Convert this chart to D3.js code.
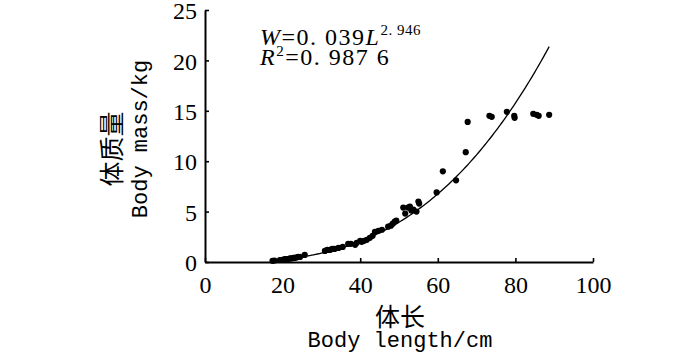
<!DOCTYPE html>
<html>
<head>
<meta charset="utf-8">
<script src="https://cdn.jsdelivr.net/npm/d3@7"></script>
<style>
  body { margin: 0; background: #fff; }
  .tick text { font-family: "Liberation Serif", serif; font-size: 24px; fill: #000; }
  .axis path, .axis line { stroke: #000; }
</style>
</head>
<body>
<script>
    // data (length cm, mass kg)
    var lengths = [17.4, 17.9, 19.3, 20.2, 20.6, 21.0, 21.4, 21.9, 22.3, 22.8, 23.1, 23.6, 24.0, 24.5, 25.7,
      30.9, 31.5, 32.2, 32.8, 33.4, 34.4, 35.5, 36.9, 37.6, 38.7, 39.1, 40.0, 40.4, 41.0, 41.7,
      42.5, 43.2, 43.8, 44.7, 45.6, 47.2, 47.9, 48.4, 48.9, 49.3, 51.1, 51.6, 52.3, 52.8, 53.2,
      53.7, 54.5, 55.0, 55.2, 59.7, 61.3, 64.7, 67.2, 67.7, 73.3, 73.9, 77.8, 79.7, 79.8,
      84.6, 85.5, 86.0, 88.7];
    var masses = [0.12, 0.15, 0.2, 0.25, 0.3, 0.28, 0.3, 0.35, 0.35, 0.4, 0.4, 0.45, 0.5, 0.5, 0.7,
      1.1, 1.2, 1.2, 1.3, 1.3, 1.4, 1.5, 1.8, 1.8, 1.7, 1.9, 2.1, 2.0, 2.1, 2.2,
      2.4, 2.6, 3.0, 3.1, 3.2, 3.5, 3.6, 3.8, 4.0, 4.1, 5.4, 4.8, 5.4, 5.5, 5.1,
      5.2, 5.0, 6.0, 5.8, 6.9, 9.0, 8.1, 10.9, 13.9, 14.5, 14.4, 14.9, 14.5, 14.3,
      14.7, 14.6, 14.5, 14.6];
    var xTicks = [0, 20, 40, 60, 80, 100];
    var yTicks = [0, 5, 10, 15, 20, 25];

    // fitted power curve W = a * L^b (g -> kg)
    var fitA = 0.039, fitB = 2.946;
    var fitStart = 20, fitEnd = 88.7;

    var margin = {top: 10, left: 205},
      width = 388,
      height = 252;

    var svg = d3.select("body").append("svg")
      .attr("width", 700)
      .attr("height", 354);
    var g = svg.append("g")
      .attr("transform", "translate(" + margin.left + "," + margin.top + ")");

    var x = d3.scaleLinear().domain([0, 100]).range([0, width]);
    var y = d3.scaleLinear().domain([0, 25]).range([height, 0]);

    //axes, ticks pointing inward
    var xAxis = g.append("g")
      .attr("class", "axis")
      .attr("transform", "translate(0," + height + ")")
      .call(d3.axisBottom(x).tickValues(xTicks).tickSizeInner(-4).tickSizeOuter(0).tickPadding(8));
    var yAxis = g.append("g")
      .attr("class", "axis")
      .call(d3.axisLeft(y).tickValues(yTicks).tickSizeInner(-4).tickSizeOuter(0).tickPadding(8));
    g.selectAll(".axis path").attr("stroke-width", 2);
    g.selectAll(".axis line").attr("stroke-width", 1.6);
    xAxis.selectAll("text").attr("dy", "0.95em");
    yAxis.selectAll("text").attr("dy", "0.36em");

    //fit line
    var fitData = d3.range(fitStart, fitEnd, 0.5).concat([fitEnd]).map(function(L) {
      return {L: L, W: fitA * Math.pow(L, fitB) / 1000};
    });
    g.append("path")
      .datum(fitData)
      .attr("fill", "none")
      .attr("stroke", "#000")
      .attr("stroke-width", 1.3)
      .attr("d", d3.line().x(function(d) { return x(d.L); }).y(function(d) { return y(d.W); }));

    //points
    g.selectAll("circle.pt")
      .data(lengths)
      .enter().append("circle")
      .attr("class", "pt")
      .attr("cx", function(d) { return x(d); })
      .attr("cy", function(d, i) { return y(masses[i]); })
      .attr("r", 3.1)
      .attr("fill", "#000");

    //equation
    var eq = svg.append("text")
      .attr("x", 260).attr("y", 45)
      .attr("font-family", "Liberation Serif, serif")
      .attr("font-size", 24)
      .attr("letter-spacing", 1.5);
    eq.append("tspan").attr("font-style", "italic").text("W");
    eq.append("tspan").text("=0. 039");
    eq.append("tspan").attr("font-style", "italic").text("L");
    eq.append("tspan").attr("font-size", 15).attr("dy", -10).attr("letter-spacing", 0.5).text("2. 946");

    var r2 = svg.append("text")
      .attr("x", 260).attr("y", 65)
      .attr("font-family", "Liberation Serif, serif")
      .attr("font-size", 24)
      .attr("letter-spacing", 1.5);
    r2.append("tspan").attr("font-style", "italic").text("R");
    r2.append("tspan").attr("font-size", 15).attr("dy", -9).text("2");
    r2.append("tspan").attr("dy", 9).text("=0. 987 6");

    //axis titles
    svg.append("text")
      .attr("x", 400).attr("y", 326)
      .attr("text-anchor", "middle")
      .attr("font-family", "Noto Sans CJK SC")
      .attr("font-size", 25)
      .text("体长");
    svg.append("text")
      .attr("x", 400).attr("y", 347)
      .attr("text-anchor", "middle")
      .attr("font-family", "Liberation Mono, monospace")
      .attr("font-size", 22)
      .text("Body length/cm");

    svg.append("text")
      .attr("transform", "translate(121,149) rotate(-90)")
      .attr("text-anchor", "middle")
      .attr("font-family", "Noto Sans CJK SC")
      .attr("font-size", 25)
      .text("体质量");
    svg.append("text")
      .attr("transform", "translate(147,139) rotate(-90)")
      .attr("text-anchor", "middle")
      .attr("font-family", "Liberation Mono, monospace")
      .attr("font-size", 22)
      .text("Body mass/kg");
</script>
</body>
</html>
